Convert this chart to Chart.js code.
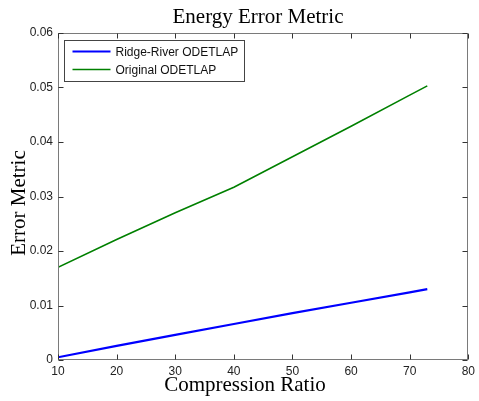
<!DOCTYPE html>
<html>
<head>
<meta charset="utf-8">
<title>Energy Error Metric</title>
<script src="https://cdn.jsdelivr.net/npm/chart.js"></script>
<style>
  html, body { margin: 0; padding: 0; background: #fff; }
  #wrap { width: 479px; height: 401px; }
</style>
</head>
<body>
<div id="wrap"><canvas id="energyChart" width="479" height="401"></canvas></div>
<script>
// Values
const compressionRatio = [10, 20, 30, 40, 50, 60, 70, 73];
const ridgeRiver = [0.0005, 0.0026, 0.0046, 0.0066, 0.0086, 0.0105, 0.0124, 0.0130];
const original = [0.0170, 0.0221, 0.0270, 0.0317, 0.0373, 0.0429, 0.0486, 0.0503];
const xTicks = [10, 20, 30, 40, 50, 60, 70, 80];
const yTicks = [0, 0.01, 0.02, 0.03, 0.04, 0.05, 0.06];

const toPoints = (ys) => compressionRatio.map((x, i) => ({ x: x, y: ys[i] }));

// Draws the MATLAB style box, inward ticks, legend and titles
const matlabFrame = {
  id: 'matlabFrame',
  afterDraw(chart) {
    const { ctx, chartArea: a, scales } = chart;
    const L = Math.round(a.left) + 0.5, R = Math.round(a.right) - 0.5;
    const T = Math.round(a.top) + 0.5, B = Math.round(a.bottom) - 0.5;
    ctx.save();
    ctx.strokeStyle = '#7a7a7a';
    ctx.lineWidth = 1;
    ctx.strokeRect(L, T, R - L, B - T);

    ctx.strokeStyle = '#333';
    ctx.beginPath();
    xTicks.forEach(v => {
      const px = Math.round(scales.x.getPixelForValue(v)) + 0.5;
      ctx.moveTo(px, B); ctx.lineTo(px, B - 5);
      ctx.moveTo(px, T); ctx.lineTo(px, T + 5);
    });
    yTicks.forEach(v => {
      const py = Math.round(scales.y.getPixelForValue(v)) + 0.5;
      ctx.moveTo(L, py); ctx.lineTo(L + 5, py);
      ctx.moveTo(R, py); ctx.lineTo(R - 5, py);
    });
    ctx.stroke();

    // legend
    const lx = L + 6, ly = T + 7, lw = 180, lh = 41;
    ctx.fillStyle = '#fff';
    ctx.fillRect(lx, ly, lw, lh);
    ctx.strokeStyle = '#444';
    ctx.strokeRect(lx, ly, lw, lh);
    ctx.font = '12px "Liberation Sans", Arial, sans-serif';
    ctx.textBaseline = 'middle';
    ctx.textAlign = 'left';
    chart.data.datasets.forEach((ds, i) => {
      const yy = ly + 11 + i * 18;
      ctx.strokeStyle = ds.borderColor;
      ctx.lineWidth = ds.borderWidth;
      ctx.beginPath();
      ctx.moveTo(lx + 8, yy); ctx.lineTo(lx + 46, yy);
      ctx.stroke();
      ctx.fillStyle = '#111';
      ctx.fillText(ds.label, lx + 51, yy + 1);
    });

    // titles
    ctx.fillStyle = '#000';
    ctx.font = '21px "Liberation Serif", "Times New Roman", serif';
    ctx.textAlign = 'center';
    ctx.textBaseline = 'middle';
    ctx.fillText('Energy Error Metric', 258, 17);
    ctx.fillText('Compression Ratio', 245, 385);
    ctx.translate(19, 203);
    ctx.rotate(-Math.PI / 2);
    ctx.fillText('Error Metric', 0, 0);
    ctx.restore();
  }
};

new Chart(document.getElementById('energyChart'), {
  type: 'line',
  data: {
    datasets: [
      { label: 'Ridge-River ODETLAP', data: toPoints(ridgeRiver), borderColor: '#0000ff', borderWidth: 2.2, pointRadius: 0, fill: false, tension: 0 },
      { label: 'Original ODETLAP', data: toPoints(original), borderColor: '#008000', borderWidth: 1.6, pointRadius: 0, fill: false, tension: 0 }
    ]
  },
  options: {
    responsive: false,
    animation: false,
    layout: { padding: { top: 33, right: 6, left: 0, bottom: 0 } },
    plugins: { legend: { display: false }, title: { display: false }, tooltip: { enabled: false } },
    scales: {
      x: {
        type: 'linear', min: 10, max: 80,
        grid: { display: false, drawTicks: false },
        border: { display: false },
        afterBuildTicks: (s) => { s.ticks = xTicks.map(v => ({ value: v })); },
        afterFit: (s) => { s.height = 41; },
        ticks: { padding: 4, color: '#222', font: { family: '"Liberation Sans", Arial, sans-serif', size: 12 } }
      },
      y: {
        min: 0, max: 0.06,
        grid: { display: false, drawTicks: false },
        border: { display: false },
        afterBuildTicks: (s) => { s.ticks = yTicks.map(v => ({ value: v })); },
        afterFit: (s) => { s.width = 58; },
        ticks: {
          padding: 5, color: '#222',
          font: { family: '"Liberation Sans", Arial, sans-serif', size: 12 },
          callback: (v) => v === 0 ? '0' : v.toFixed(2)
        }
      }
    }
  },
  plugins: [matlabFrame]
});
</script>
</body>
</html>
